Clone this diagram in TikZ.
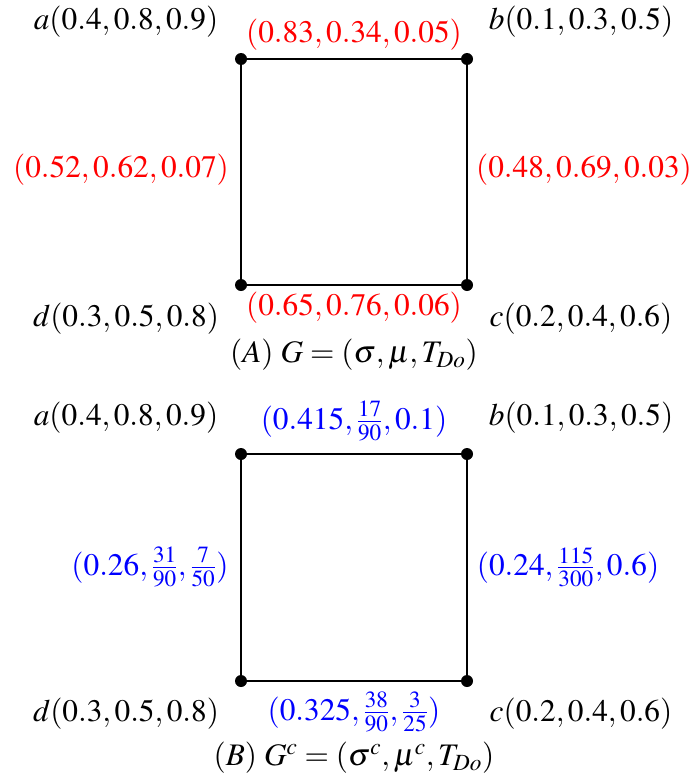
\documentclass[tikz,border=0pt]{standalone}
\usepackage{mathptmx}
\begin{document}
\begin{tikzpicture}[x=0.75pt,y=-0.75pt,
  lbl/.style={inner sep=0pt,font=\fontsize{23.5}{27}\selectfont},
  redl/.style={lbl,text=red},
  bluel/.style={lbl,text=blue},
  vdot/.style={circle,fill=black,inner sep=0pt,minimum size=9pt},
  edge/.style={line width=0.9pt}]
\useasboundingbox (0,0) rectangle (694,778);
% Panel A
\node[vdot] (A1) at (241,59) {};
\node[vdot] (B1) at (467,59) {};
\node[vdot] (C1) at (467,285) {};
\node[vdot] (D1) at (241,285) {};
\draw[edge] (A1) -- (B1) -- (C1) -- (D1) -- (A1);
\node[lbl] (la1) at (126,22) {$a(0.4,0.8,0.9)$};
\node[lbl] (lb1) at (581,22) {$b(0.1,0.3,0.5)$};
\node[lbl] (lc1) at (581,319) {$c(0.2,0.4,0.6)$};
\node[lbl] (ld1) at (126,319) {$d(0.3,0.5,0.8)$};
\node[redl] (eab1) at (354,35) {$(0.83,0.34,0.05)$};
\node[redl] (ebc1) at (584,170) {$(0.48,0.69,0.03)$};
\node[redl] (ecd1) at (354,308) {$(0.65,0.76,0.06)$};
\node[redl] (eda1) at (121,170) {$(0.52,0.62,0.07)$};
\node[lbl] (capA) at (354,355) {$(A)\;G=(\sigma,\mu,T_{Do})$};
% Panel B
\node[vdot] (A2) at (241,454) {};
\node[vdot] (B2) at (467,454) {};
\node[vdot] (C2) at (467,681) {};
\node[vdot] (D2) at (241,681) {};
\draw[edge] (A2) -- (B2) -- (C2) -- (D2) -- (A2);
\node[lbl] (la2) at (126,418) {$a(0.4,0.8,0.9)$};
\node[lbl] (lb2) at (581,418) {$b(0.1,0.3,0.5)$};
\node[lbl] (lc2) at (581,714) {$c(0.2,0.4,0.6)$};
\node[lbl] (ld2) at (126,714) {$d(0.3,0.5,0.8)$};
\node[bluel] (eab2) at (354,421) {$(0.415,\frac{17}{90},0.1)$};
\node[bluel] (ebc2) at (568,567) {$(0.24,\frac{115}{300},0.6)$};
\node[bluel] (ecd2) at (354,712) {$(0.325,\frac{38}{90},\frac{3}{25})$};
\node[bluel] (eda2) at (150,567) {$(0.26,\frac{31}{90},\frac{7}{50})$};
\node[lbl] (capB) at (354,758) {$(B)\;G^{c}=(\sigma^{c},\mu^{c},T_{Do})$};
\end{tikzpicture}
\end{document}
